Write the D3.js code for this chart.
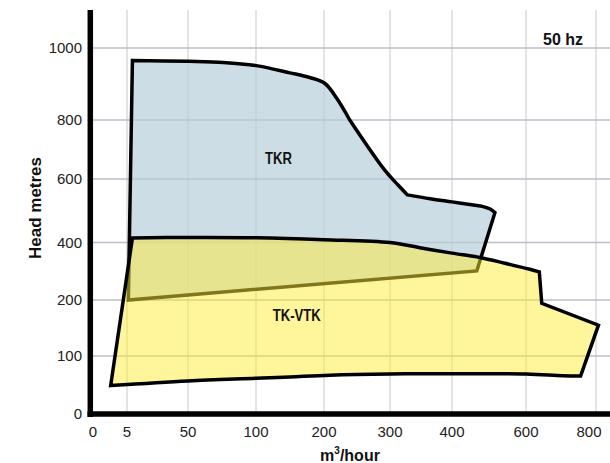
<!DOCTYPE html>
<html><head><meta charset="utf-8">
<script src="https://cdn.jsdelivr.net/npm/d3@7"></script>
<style>
html,body{margin:0;padding:0;background:#fff;}
svg{display:block;font-family:"Liberation Sans",Arial,sans-serif;}
</style></head>
<body>
<script>
// ---- data ----
const xTicks = [0, 5, 50, 100, 200, 300, 400, 600, 800];
const yTicks = [0, 100, 200, 400, 600, 800, 1000];

// TKR envelope (flow m3/h, head m), traced clockwise from top-left
const tkrFlow = [9, 50, 76, 100, 150, 179, 201, 219, 239, 292, 313, 328, 365, 400, 458, 484, 503, 516, 467, 6];
const tkrHead = [965, 963, 960, 951, 931, 918, 902, 861, 800, 630, 581, 550, 538, 528, 518, 513, 505.5, 494, 301, 200];
const tkrCorners = [0, 8, 11, 17, 18, 19];

// TK-VTK envelope
const tkFlow = [9, 50, 100, 200, 300, 348, 400, 475, 543, 611, 638, 645, 807, 756, 705, 600, 400, 300, 209, 150, 100, 50, 2.6];
const tkHead = [414, 416, 415, 409, 400, 382, 363, 348, 328, 307, 298, 194, 155, 65.5, 66, 69, 69.5, 69, 67, 64, 61.6, 57, 49];
const tkCorners = [0, 10, 11, 12, 13, 22];

const labels = ["TKR", "TK-VTK"];
const labelFlow = [133, 160];
const labelHead = [650, 162];

// ---- layout ----
const W = 610, H = 463;
const svg = d3.select("body").append("svg").attr("width", W).attr("height", H);

// piecewise (non-uniform) axes, as in the original chart
const x = d3.scaleLinear().domain(xTicks).range([93, 127, 188, 256, 324, 390, 452, 526, 596]);
const y = d3.scaleLinear().domain(yTicks).range([414, 356, 300, 242.5, 179, 120, 48]);

const axisLeftX = 90.3, axisBottomY = 414, topY = 10;

// grid
const grid = svg.append("g");
grid.selectAll("line.v").data(xTicks.slice(1)).join("line")
  .attr("x1", d => x(d)).attr("x2", d => x(d))
  .attr("y1", topY).attr("y2", axisBottomY)
  .attr("stroke", "#dcdcde").attr("stroke-width", 1.6);
grid.selectAll("line.h").data(yTicks.slice(1)).join("line")
  .attr("x1", axisLeftX).attr("x2", W)
  .attr("y1", d => y(d)).attr("y2", d => y(d))
  .attr("stroke", "#bdbcc9").attr("stroke-width", 1.6);

// closed outline: smooth between corners, straight where a segment has 2 points
const smooth = d3.line().x(d => x(d[0])).y(d => y(d[1])).curve(d3.curveCatmullRom.alpha(0.5));
function envelope(flow, head, corners) {
  const pts = flow.map((f, i) => [f, head[i]]);
  const cs = corners.concat([pts.length]);
  let d = "";
  for (let k = 0; k < cs.length - 1; k++) {
    const seg = pts.slice(cs[k], cs[k + 1] + 1);
    if (cs[k + 1] === pts.length) seg[seg.length - 1] = pts[0];
    let s = smooth(seg);
    d += (k === 0) ? s : s.replace(/^M/, "L");
  }
  return d + "Z";
}

svg.append("path").attr("d", envelope(tkrFlow, tkrHead, tkrCorners))
  .attr("fill", "rgb(184,206,218)").attr("fill-opacity", 0.7)
  .attr("stroke", "#000").attr("stroke-width", 3.5).attr("stroke-linejoin", "miter");

const tkPath = envelope(tkFlow, tkHead, tkCorners);
svg.append("path").attr("d", tkPath)
  .attr("fill", "rgb(255,236,56)").attr("fill-opacity", 0.5).attr("stroke", "none");
svg.append("path").attr("d", tkPath)
  .attr("fill", "none").attr("stroke", "#000").attr("stroke-width", 3.5).attr("stroke-linejoin", "miter");

// region labels (condensed bold)
labels.forEach((t, i) => {
  svg.append("text")
    .attr("transform", `translate(${x(labelFlow[i])},${y(labelHead[i])}) scale(0.82,1)`)
    .attr("text-anchor", "middle")
    .attr("font-weight", "bold").attr("font-size", 16).attr("fill", "#111")
    .text(t);
});

// axes lines
svg.append("line").attr("x1", axisLeftX).attr("x2", axisLeftX).attr("y1", topY).attr("y2", axisBottomY + 3)
  .attr("stroke", "#000").attr("stroke-width", 5.5);
svg.append("line").attr("x1", axisLeftX - 2.8).attr("x2", W).attr("y1", axisBottomY).attr("y2", axisBottomY)
  .attr("stroke", "#000").attr("stroke-width", 5.5);

// tick labels
svg.append("g").selectAll("text").data(xTicks).join("text")
  .attr("x", d => x(d) + (d === 800 ? -7 : 0))
  .attr("y", 437)
  .attr("text-anchor", "middle").attr("font-size", 15).attr("fill", "#222")
  .text(d => d);
svg.append("g").selectAll("text").data(yTicks).join("text")
  .attr("x", 82).attr("y", d => y(d)).attr("dy", "0.35em")
  .attr("text-anchor", "end").attr("font-size", 15).attr("fill", "#222")
  .text(d => d);

// axis titles
const xt = svg.append("text").attr("x", 350).attr("y", 461).attr("text-anchor", "middle")
  .attr("font-weight", "bold").attr("font-size", 16).attr("fill", "#111");
xt.append("tspan").text("m");
xt.append("tspan").attr("font-size", 10).attr("dy", -7).text("3");
xt.append("tspan").attr("dy", 7).text("/hour");

svg.append("text").attr("transform", "translate(41,208) rotate(-90)")
  .attr("text-anchor", "middle").attr("font-weight", "bold").attr("font-size", 17).attr("fill", "#111")
  .text("Head metres");

svg.append("text").attr("x", 543).attr("y", 45)
  .attr("font-weight", "bold").attr("font-size", 16).attr("fill", "#111")
  .text("50 hz");
</script>
</body></html>
